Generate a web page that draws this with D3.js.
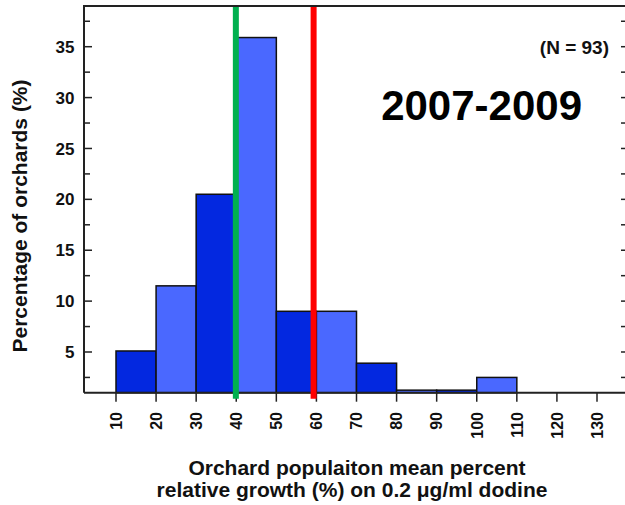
<!DOCTYPE html>
<html>
<head>
<meta charset="utf-8">
<script src="https://cdn.jsdelivr.net/npm/d3@7"></script>
<style>
  body { margin: 0; background: #fff; }
  text { font-family: "Liberation Sans", Arial, sans-serif; font-weight: bold; fill: #111; }
</style>
</head>
<body>
<div id="chart"></div>
<script>
// histogram bins (lower edge) and percent of orchards
var binStarts = [10, 20, 30, 40, 50, 60, 70, 80, 90, 100];
var binWidth = 10;
var percents = [5.1, 11.5, 20.5, 35.9, 9.0, 9.0, 3.9, 1.25, 1.25, 2.5];
var xTicks = [10, 20, 30, 40, 50, 60, 70, 80, 90, 100, 110, 120, 130];
var yTicks = [5, 10, 15, 20, 25, 30, 35];
var yMinor = [2.5, 7.5, 12.5, 17.5, 22.5, 27.5, 32.5, 37.5];
// vertical reference lines (green, red)
var refLines = [39.9, 59.3];
var refColors = ["#00b04f", "#ff0000"];

var width = 625, height = 505;
var pLeft = 84, pRight = 628, pTop = 6, pBottom = 392.7;

var svg = d3.select('#chart').append('svg')
    .attr('width', width)
    .attr('height', height);

var x = d3.scaleLinear().domain([10, 130]).range([116, 597]);
var y = d3.scaleLinear().domain([1, 39]).range([pBottom, pTop]);

// bars
svg.selectAll('rect.bar')
    .data(percents)
    .enter()
    .append('rect')
    .attr('class', 'bar')
    .attr('x', function(d, i) { return x(binStarts[i]); })
    .attr('width', function(d, i) { return x(binStarts[i] + binWidth) - x(binStarts[i]); })
    .attr('y', function(d) { return y(d); })
    .attr('height', function(d) { return y(1) - y(d); })
    .attr('fill', function(d, i) { return i % 2 === 0 ? '#0328e0' : '#4a68ff'; })
    .attr('stroke', '#111')
    .attr('stroke-width', 1.5);

// frame
svg.append('path')
    .attr('d', 'M' + pLeft + ',' + pBottom + 'V' + pTop + 'H' + pRight + 'V' + pBottom + 'H' + pLeft)
    .attr('fill', 'none')
    .attr('stroke', '#222')
    .attr('stroke-width', 2);

// y ticks (inward, both sides)
svg.selectAll('line.ymaj')
    .data(yTicks)
    .enter()
    .append('line')
    .attr('x1', pLeft).attr('x2', pLeft + 8)
    .attr('y1', function(d) { return y(d); })
    .attr('y2', function(d) { return y(d); })
    .attr('stroke', '#222').attr('stroke-width', 1.5);
svg.selectAll('line.ymin')
    .data(yMinor)
    .enter()
    .append('line')
    .attr('x1', pLeft).attr('x2', pLeft + 6)
    .attr('y1', function(d) { return y(d); })
    .attr('y2', function(d) { return y(d); })
    .attr('stroke', '#222').attr('stroke-width', 1.5);
svg.selectAll('line.yr')
    .data(yTicks.concat(yMinor))
    .enter()
    .append('line')
    .attr('x1', pRight).attr('x2', pRight - 7)
    .attr('y1', function(d) { return y(d); })
    .attr('y2', function(d) { return y(d); })
    .attr('stroke', '#222').attr('stroke-width', 1.5);

svg.selectAll('text.ylab')
    .data(yTicks)
    .enter()
    .append('text')
    .attr('x', pLeft - 9.5)
    .attr('y', function(d) { return y(d); })
    .attr('dy', '0.36em')
    .attr('text-anchor', 'end')
    .style('font-size', '17px')
    .text(function(d) { return d; });

// x ticks (outward)
svg.selectAll('line.xt')
    .data(xTicks)
    .enter()
    .append('line')
    .attr('x1', function(d) { return x(d); })
    .attr('x2', function(d) { return x(d); })
    .attr('y1', pBottom).attr('y2', pBottom + 9)
    .attr('stroke', '#222').attr('stroke-width', 1.5);

svg.selectAll('text.xlab')
    .data(xTicks)
    .enter()
    .append('text')
    .attr('transform', function(d) { return 'translate(' + x(d) + ',412) rotate(-90)'; })
    .attr('dy', '0.36em')
    .attr('text-anchor', 'end')
    .style('font-size', '16px')
    .text(function(d) { return d; });

// reference lines
svg.selectAll('line.ref')
    .data(refLines)
    .enter()
    .append('line')
    .attr('x1', function(d) { return x(d); })
    .attr('x2', function(d) { return x(d); })
    .attr('y1', pTop + 1)
    .attr('y2', pBottom + 6)
    .attr('stroke', function(d, i) { return refColors[i]; })
    .attr('stroke-width', 6);

// annotations
svg.append('text')
    .attr('x', 609).attr('y', 54)
    .attr('text-anchor', 'end')
    .style('font-size', '19px')
    .text('(N = 93)');

svg.append('text')
    .attr('x', 582).attr('y', 120)
    .attr('text-anchor', 'end')
    .style('font-size', '42px')
    .style('fill', '#000')
    .text('2007-2009');

// axis titles
svg.append('text')
    .attr('transform', 'translate(27,216) rotate(-90)')
    .attr('text-anchor', 'middle')
    .style('font-size', '21px')
    .text('Percentage of orchards (%)');

svg.append('text')
    .attr('x', 357).attr('y', 475)
    .attr('text-anchor', 'middle')
    .style('font-size', '21px')
    .text('Orchard populaiton mean percent');

svg.append('text')
    .attr('x', 352).attr('y', 497)
    .attr('text-anchor', 'middle')
    .style('font-size', '21px')
    .text('relative growth (%) on 0.2 \u03bcg/ml dodine');
</script>
</body>
</html>
